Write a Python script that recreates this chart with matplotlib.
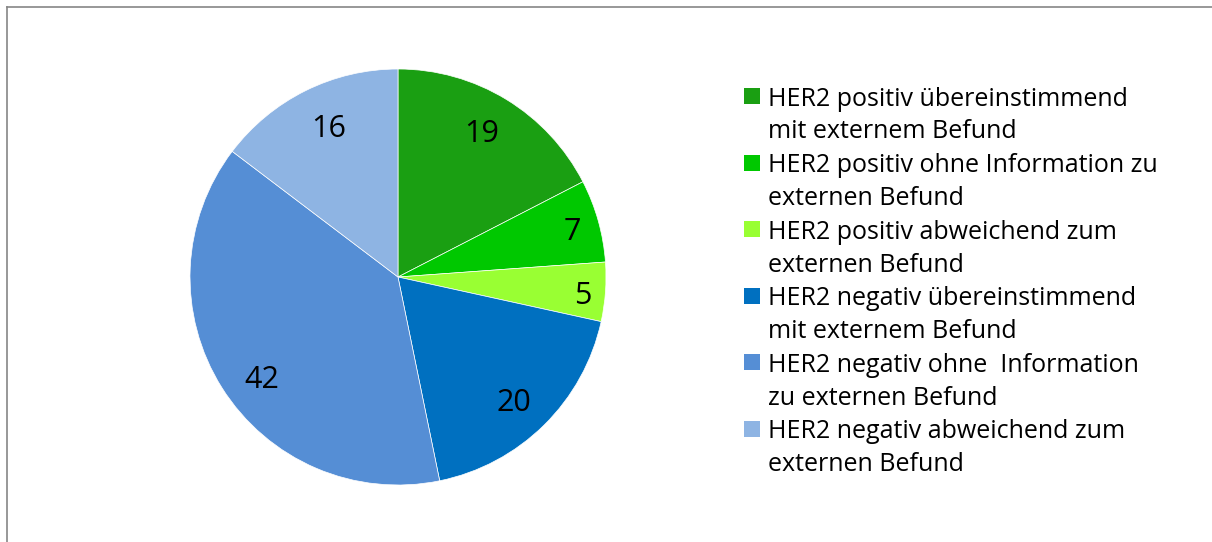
"""HER2 status pie chart with legend on the right."""
import numpy as np
import matplotlib
matplotlib.use('Agg')
import matplotlib.pyplot as plt
from matplotlib.patches import Rectangle
from matplotlib.lines import Line2D

# data
labels = [
    'HER2 positiv übereinstimmend\nmit externem Befund',
    'HER2 positiv ohne Information zu\nexternen Befund',
    'HER2 positiv abweichend zum\nexternen Befund',
    'HER2 negativ übereinstimmend\nmit externem Befund',
    'HER2 negativ ohne  Information\nzu externen Befund',
    'HER2 negativ abweichend zum\nexternen Befund',
]
values = [19, 7, 5, 20, 42, 16]
colors = ['#1a9f12', '#00c800', '#99ff33', '#0070c0', '#558ed5', '#8eb4e3']

# label placement (radius fraction, angle tweak in degrees), like Excel's best fit
label_dist = [0.81, 0.87, 0.89, 0.81, 0.81, 0.80]
label_dang = [1.8, -0.3, -0.6, -1.3, 3.9, -1.7]

plt.rcParams['font.family'] = ['Open Sans', 'DejaVu Sans']

W, H = 1212, 542
fig = plt.figure(figsize=(W / 100, H / 100), dpi=100)

# chart area border (left and top edges visible)
fig.add_artist(Line2D([6.5 / W, 6.5 / W], [0, 1 - 6.5 / H], transform=fig.transFigure,
                      color='#868686', lw=1.2))
fig.add_artist(Line2D([6.5 / W, 1], [1 - 6.5 / H, 1 - 6.5 / H], transform=fig.transFigure,
                      color='#868686', lw=1.2))

# pie
cx, cy, r = 398, 277, 208
ax = fig.add_axes([(cx - r) / W, (H - cy - r) / H, 2 * r / W, 2 * r / H])
wedges, texts = ax.pie(values, colors=colors, startangle=90, counterclock=False,
                       labels=[str(v) for v in values], labeldistance=0.8,
                       textprops=dict(fontsize=22, color='black'),
                       wedgeprops=dict(linewidth=0.5, edgecolor='white'))
for w, t, d, da in zip(wedges, texts, label_dist, label_dang):
    mid = np.deg2rad((w.theta1 + w.theta2) / 2 + da)
    # small downward nudge so the digits sit where Excel puts them
    t.set_position((d * np.cos(mid), d * np.sin(mid) - 3.5 / r))
    t.set_ha('center')
    t.set_va('center')
ax.set_xlim(-1, 1)
ax.set_ylim(-1, 1)
ax.set_aspect('equal')
ax.axis('off')

# legend, handle aligned with the first text line
x_box, x_text = 744, 768
y0, step = 96, 66.6
for i, (lab, col) in enumerate(zip(labels, colors)):
    y = y0 + i * step
    fig.add_artist(Rectangle((x_box / W, 1 - (y + 8) / H), 16 / W, 16 / H,
                             transform=fig.transFigure, facecolor=col, edgecolor='none'))
    fig.text(x_text / W, 1 - (y - 9.5) / H, lab, fontsize=18, va='top', ha='left',
             linespacing=1.42, color='black')

fig.savefig('out.png', dpi=100)
